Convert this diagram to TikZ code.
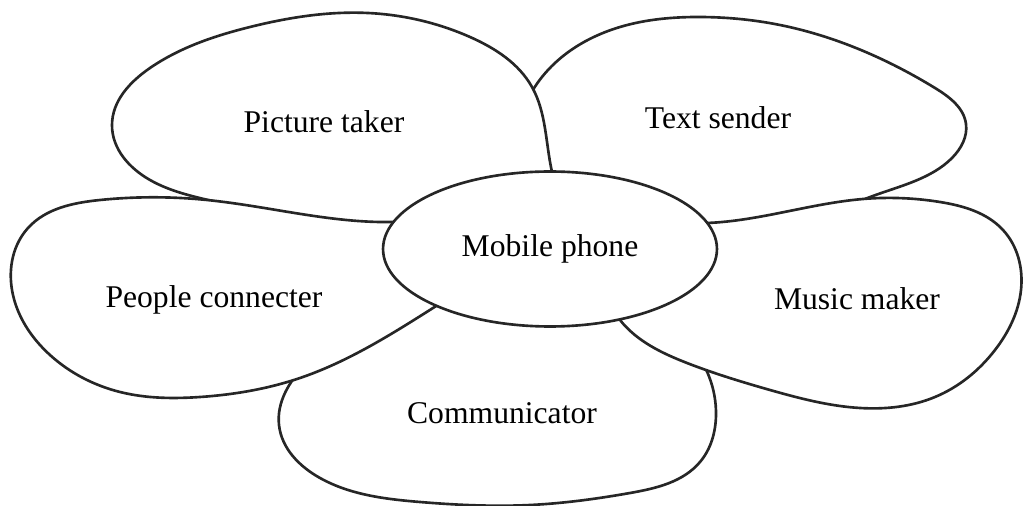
\documentclass[tikz,border=0pt]{standalone}
\usepackage{fontspec}
\setmainfont{Liberation Serif}
\usetikzlibrary{shapes.geometric,positioning,hobby}

\begin{document}
\begin{tikzpicture}[x=0.02cm,y=-0.02cm,
    petal/.style={draw=black!85,line width=1.5pt,fill=white},
    word/.style={font=\fontsize{18}{22}\selectfont}]
  \useasboundingbox (0,0) rectangle (1024,506);
  % petals, back to front
  \filldraw[petal] plot[closed hobby] coordinates {(545,215) (518,130) (548,70) (620,27) (700,17) (780,25) (868,53) (935,88) (966,124) (952,158) (915,181) (865,199) (800,228) (700,245)};
  \filldraw[petal] plot[closed hobby] coordinates {(555,230) (552,172) (532,87) (470,37) (368,13) (250,27) (150,68) (112,125) (150,180) (221,203) (330,228) (450,245)};
  \filldraw[petal] plot[closed hobby] coordinates {(500,300) (380,318) (305,365) (279,425) (320,478) (420,502) (530,505) (630,493) (700,462) (716,415) (690,345) (600,300)};
  \filldraw[petal] plot[closed hobby] coordinates {(393,222) (207,200) (100,200) (28,228) (12,290) (50,355) (120,392) (200,397) (300,378) (433,308) (470,255)};
  \filldraw[petal] plot[closed hobby] coordinates {(707,223) (863,199) (940,202) (1003,230) (1021,290) (995,350) (935,397) (860,408) (770,390) (687,363) (620,320) (610,255)};
  % centre
  \node[petal,ellipse,minimum width=6.68cm,minimum height=3.1cm,inner sep=0pt,word] (phone) at (550,249) {Mobile phone};
  \node[word] (pic) at (324,122) {Picture taker};
  \node[word] (txt) at (718,118) {Text sender};
  \node[word] (ppl) at (214,300) {People connecter};
  \node[word] (mus) at (857,299) {Music maker};
  \node[word] (com) at (502,413) {Communicator};
\end{tikzpicture}
\end{document}
